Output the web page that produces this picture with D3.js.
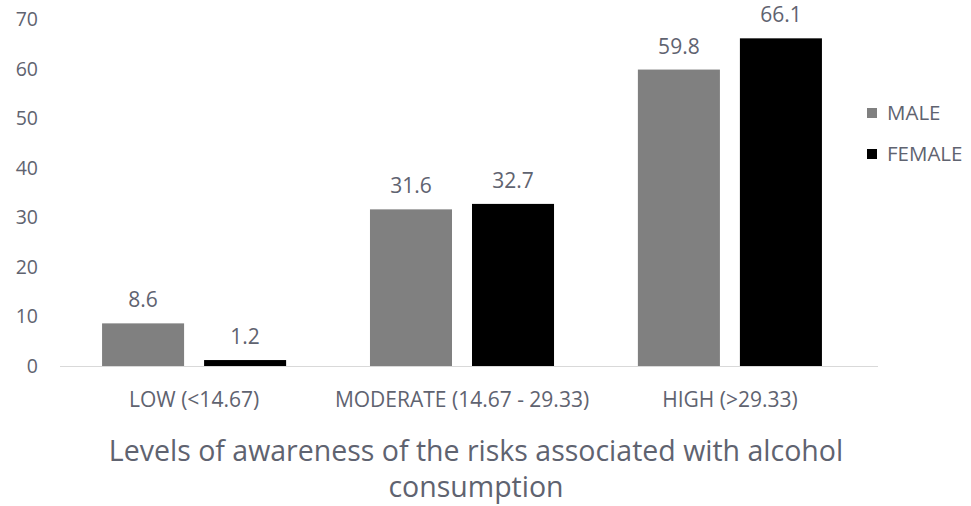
<!DOCTYPE html>
<html>
<head>
<meta charset="utf-8">
<script src="https://cdn.jsdelivr.net/npm/d3@7"></script>
<style>
  html, body { margin: 0; padding: 0; background: #fff; }
  svg { display: block; font-family: "Open Sans", "Noto Sans", sans-serif; }
</style>
</head>
<body>
<svg id="chart" width="971" height="506"></svg>
<script>
// Awareness levels by sex (percent)
const categories = ["LOW (<14.67)", "MODERATE (14.67 - 29.33)", "HIGH (>29.33)"];
const seriesNames = ["MALE", "FEMALE"];
const maleValues = [8.6, 31.6, 59.8];
const femaleValues = [1.2, 32.7, 66.1];
const yTicks = [0, 10, 20, 30, 40, 50, 60, 70];
const titleLines = ["Levels of awareness of the risks associated with alcohol", "consumption"];

const colors = { MALE: "#808080", FEMALE: "#000000" };
const textColor = "#5f6370";

const svg = d3.select("#chart");
const plot = { left: 60, right: 864, top: 19, bottom: 366 };

const x0 = d3.scaleBand()
  .domain(categories)
  .range([plot.left, plot.right])
  .paddingInner(0.313)
  .paddingOuter(0.157);

const x1 = d3.scaleBand()
  .domain(seriesNames)
  .range([0, x0.bandwidth()])
  .paddingInner(0.196);

const y = d3.scaleLinear().domain([0, 70]).range([plot.bottom, plot.top]);

// y tick labels
svg.append("g")
  .selectAll("text")
  .data(yTicks)
  .join("text")
  .attr("x", 38)
  .attr("y", d => y(d))
  .attr("dy", "0.36em")
  .attr("text-anchor", "end")
  .attr("font-size", 19.5)
  .attr("fill", textColor)
  .text(d => d);

// baseline
svg.append("line")
  .attr("x1", plot.left).attr("x2", plot.right + 14)
  .attr("y1", y(0) + 0.5).attr("y2", y(0) + 0.5)
  .attr("stroke", "#d9d9d9").attr("stroke-width", 1);

const rows = categories.map((c, i) => ({
  category: c,
  values: [
    { series: "MALE", value: maleValues[i] },
    { series: "FEMALE", value: femaleValues[i] }
  ]
}));

const groups = svg.append("g")
  .selectAll("g")
  .data(rows)
  .join("g")
  .attr("transform", d => `translate(${x0(d.category)},0)`);

groups.selectAll("rect")
  .data(d => d.values)
  .join("rect")
  .attr("x", d => x1(d.series))
  .attr("y", d => y(d.value))
  .attr("width", x1.bandwidth())
  .attr("height", d => y(0) - y(d.value))
  .attr("fill", d => colors[d.series]);

groups.selectAll("text.value")
  .data(d => d.values)
  .join("text")
  .attr("class", "value")
  .attr("x", d => x1(d.series) + x1.bandwidth() / 2)
  .attr("y", d => y(d.value) - 16)
  .attr("text-anchor", "middle")
  .attr("font-size", 21)
  .attr("fill", textColor)
  .text(d => d.value.toFixed(1));

// category labels
svg.append("g")
  .selectAll("text")
  .data(categories)
  .join("text")
  .attr("x", d => x0(d) + x0.bandwidth() / 2)
  .attr("y", 407)
  .attr("text-anchor", "middle")
  .attr("font-size", 21)
  .attr("fill", textColor)
  .text(d => d);

// axis title
svg.append("g")
  .selectAll("text")
  .data(titleLines)
  .join("text")
  .attr("x", 476)
  .attr("y", (d, i) => 461 + i * 36)
  .attr("text-anchor", "middle")
  .attr("font-size", 28.5)
  .attr("fill", textColor)
  .text(d => d);

// legend
const legend = svg.append("g")
  .selectAll("g")
  .data(seriesNames)
  .join("g")
  .attr("transform", (d, i) => `translate(867,${113 + i * 41})`);

legend.append("rect")
  .attr("x", 0).attr("y", -5)
  .attr("width", 10).attr("height", 10)
  .attr("fill", d => colors[d]);

legend.append("text")
  .attr("x", 20).attr("y", 0)
  .attr("dy", "0.36em")
  .attr("font-size", 20.5)
  .attr("fill", textColor)
  .text(d => d);
</script>
</body>
</html>
